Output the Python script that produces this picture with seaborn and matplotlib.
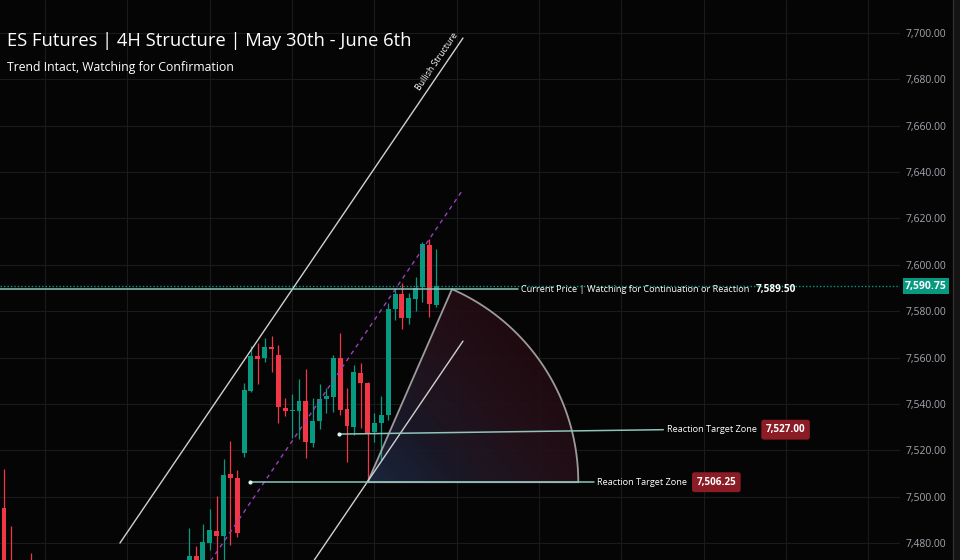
import numpy as np
import matplotlib
matplotlib.use("Agg")
import matplotlib.pyplot as plt
import seaborn as sns
from matplotlib.patches import Polygon, Rectangle
from matplotlib.lines import Line2D
from matplotlib.colors import LinearSegmentedColormap
from matplotlib.ticker import FuncFormatter

# 4H candles, index 0 = left edge of the screen
opens = [7495.1, 7466.0, 7455.0, 7446.0, 7462.0, 7444.0, 7430.0, 7438.0, 7446.0, 7440.0,
         7432.0, 7442.0, 7455.0, 7448.0, 7441.0, 7447.0, 7459.0, 7452.0, 7445.0, 7452.0,
         7460.0, 7454.0, 7458.0, 7464.0, 7457.0, 7463.0, 7459.0, 7466.0, 7474.4, 7468.0,
         7480.0, 7485.2, 7483.0, 7509.7, 7508.0, 7518.8, 7545.6, 7560.7, 7559.8, 7564.5,
         7561.1, 7538.2, 7536.9, 7537.0, 7541.2, 7523.1, 7532.6, 7542.1, 7543.0, 7559.8,
         7537.8, 7530.0, 7553.3, 7549.0, 7527.8, 7531.8, 7535.2, 7580.9, 7587.4, 7577.0,
         7585.3, 7590.4, 7608.5, 7582.7]
highs = [7511.9, 7487.3, 7468.0, 7460.0, 7475.7, 7452.0, 7441.0, 7449.0, 7455.0, 7447.0,
         7444.0, 7458.0, 7462.0, 7453.0, 7450.0, 7463.0, 7466.0, 7458.0, 7455.0, 7464.0,
         7468.0, 7461.0, 7469.0, 7470.0, 7466.0, 7469.0, 7467.0, 7486.5, 7478.7, 7488.2,
         7494.6, 7500.3, 7516.2, 7524.0, 7511.5, 7549.0, 7565.0, 7566.3, 7568.4, 7569.3,
         7565.4, 7542.5, 7544.3, 7550.7, 7555.0, 7542.5, 7548.6, 7546.9, 7561.1, 7570.6,
         7546.9, 7556.8, 7557.6, 7549.4, 7536.1, 7543.4, 7583.5, 7590.0, 7592.1, 7587.8,
         7594.7, 7609.8, 7611.1, 7606.8]
lows = [7455.0, 7450.0, 7440.0, 7436.0, 7441.0, 7425.0, 7421.0, 7433.0, 7436.0, 7428.0,
        7427.0, 7439.0, 7445.0, 7437.0, 7434.0, 7444.0, 7450.0, 7441.0, 7440.0, 7448.0,
        7451.0, 7446.0, 7452.0, 7455.0, 7452.0, 7456.0, 7455.0, 7460.0, 7463.0, 7465.0,
        7477.0, 7466.0, 7470.0, 7479.1, 7482.6, 7517.1, 7545.2, 7548.6, 7558.1, 7553.7,
        7531.8, 7534.8, 7525.3, 7524.8, 7516.7, 7521.4, 7529.2, 7536.3, 7536.7, 7535.4,
        7514.9, 7526.6, 7529.6, 7506.25, 7523.6, 7515.8, 7533.0, 7576.2, 7572.3, 7574.5,
        7580.1, 7583.9, 7577.5, 7581.8]
closes = [7462.0, 7455.0, 7446.0, 7452.0, 7444.0, 7430.0, 7438.0, 7446.0, 7440.0, 7432.0,
          7442.0, 7455.0, 7448.0, 7441.0, 7447.0, 7459.0, 7452.0, 7445.0, 7452.0, 7460.0,
          7454.0, 7458.0, 7464.0, 7457.0, 7463.0, 7459.0, 7466.0, 7474.4, 7468.0, 7480.4,
          7485.6, 7483.0, 7509.3, 7508.0, 7484.3, 7546.0, 7560.7, 7559.4, 7564.5, 7563.8,
          7538.7, 7536.9, 7537.4, 7541.2, 7523.6, 7532.6, 7542.1, 7543.6, 7559.8, 7537.4,
          7530.5, 7553.8, 7549.0, 7527.4, 7531.8, 7535.2, 7580.9, 7587.4, 7577.0, 7585.7,
          7590.0, 7609.0, 7583.1, 7590.75]

price_ticks = [7480, 7500, 7520, 7540, 7560, 7580, 7600, 7620, 7640, 7660, 7680, 7700]
current_price = 7590.75

# drawings
channel_x = [16.9, 66.9]
channel_upper = [7480.0, 7697.8]
channel_width = 130.7

watch_x = [-1.0, 74.9]
watch_y = [7589.50, 7589.50]
watch_text = "Current Price | Watching for Continuation or Reaction"
watch_value = "7,589.50"

target_x = [[48.8, 96.1], [35.9, 86.0]]
target_y = [[7527.00, 7528.9], [7506.25, 7506.25]]
target_text = "Reaction Target Zone"
target_values = ["7,527.00", "7,506.25"]

fan_apex = (53.0, 7506.25)
fan_top = (65.3, 7589.50)

title = "ES Futures | 4H Structure | May 30th - June 6th"
subtitle = "Trend Intact, Watching for Confirmation"

BG = "#050505"
GRID = "#1a1a1a"
UP = "#089981"
DOWN = "#f23645"
LINE = "#8fc4bb"

sns.set_theme(style="dark", rc={"axes.facecolor": BG, "figure.facecolor": BG,
                                "grid.color": GRID, "axes.grid": True})
plt.rcParams["font.family"] = ["Open Sans", "DejaVu Sans"]

fig = plt.figure(figsize=(9.6, 5.6), dpi=100)
ax = fig.add_axes([0, 0, 900 / 960, 1])
ax.set_facecolor(BG)
ax.set_xlim(-0.58, 130.6)
ax.set_ylim(7472.7, 7714.2)
for s in ax.spines.values():
    s.set_visible(False)

ax.set_xticks(np.arange(6, 131, 12))
ax.set_yticks(price_ticks)
ax.grid(True, color=GRID, lw=0.8)
ax.tick_params(axis="x", length=0, labelbottom=False)
ax.yaxis.tick_right()
ax.tick_params(axis="y", length=0, pad=4, labelsize=7.5, labelcolor="#a3a6ad")
ax.yaxis.set_major_formatter(FuncFormatter(lambda v, p: f"{v:,.2f}"))

# candles
idx = np.arange(len(opens))
o = np.array(opens); c = np.array(closes)
cols = [UP if cc >= oo else DOWN for oo, cc in zip(o, c)]
ax.vlines(idx, lows, highs, colors=cols, lw=0.9, zorder=3)
body = np.maximum(np.abs(c - o), 0.6)
ax.bar(idx, body, bottom=np.minimum(o, c), width=0.72, color=cols,
       edgecolor="none", linewidth=0, zorder=4)

# fan sector with gradient
T = ax.transData
apex_px = T.transform(fan_apex)
top_px = T.transform(fan_top)
r = np.hypot(*(top_px - apex_px))
th = np.arctan2(*(top_px - apex_px)[::-1])
ang = np.linspace(th, 0, 80)
arc_px = np.column_stack([apex_px[0] + r * np.cos(ang), apex_px[1] + r * np.sin(ang)])
poly_data = T.inverted().transform(np.vstack([apex_px, arc_px]))
x0, x1 = poly_data[:, 0].min(), poly_data[:, 0].max()
y0, y1 = poly_data[:, 1].min(), poly_data[:, 1].max()
gx, gy = np.meshgrid(np.linspace(x0, x1, 200), np.linspace(y0, y1, 200))
gp = T.transform(np.column_stack([gx.ravel(), gy.ravel()]))
tt = ((gp[:, 0] - apex_px[0]) * 0.75 + (gp[:, 1] - apex_px[1]) * 0.65) / r
tt = np.clip(tt, 0, 1).reshape(gx.shape)
cmap = LinearSegmentedColormap.from_list("fan", ["#1c2a44", "#1d1a2a", "#26121b", "#220b11"])
im = ax.imshow(tt, extent=(x0, x1, y0, y1), origin="lower", cmap=cmap, aspect="auto",
               alpha=0.9, zorder=1, interpolation="bilinear")
patch = Polygon(poly_data, closed=True, fc="none", ec="#b5b5b5", lw=1.3, alpha=0.85, zorder=5)
ax.add_patch(patch)
im.set_clip_path(patch)

# channel
ch_x = np.array(channel_x)
up_y = np.array(channel_upper)
sns.lineplot(x=ch_x, y=up_y, ax=ax, color="#d0d0d0", lw=1, zorder=6)
sns.lineplot(x=ch_x, y=up_y - channel_width, ax=ax, color="#d0d0d0", lw=1, zorder=6)
ax.plot(ch_x, up_y - channel_width / 2, color="#9b3fbf", lw=1, ls=(0, (3, 3)), zorder=6)
p0, p1 = T.transform((ch_x[0], up_y[0])), T.transform((ch_x[1], up_y[1]))
rot = np.degrees(np.arctan2(p1[1] - p0[1], p1[0] - p0[0]))
ax.annotate("Bullish Structure", xy=(ch_x[1], up_y[1]), xytext=(-2.5, 1.5),
            textcoords="offset points", rotation=rot, rotation_mode="anchor",
            ha="right", va="bottom", color="white", fontsize=6.3, zorder=7)

# current price line
ax.axhline(current_price, color=UP, lw=1, ls=(0, (1, 1.5)), zorder=2)

renderer = fig.canvas.get_renderer()


def label_line(xs, ys, text, value, box, dot):
    ax.plot(xs, ys, color=LINE, lw=1.1, zorder=6)
    if dot:
        ax.scatter([xs[0]], [ys[0]], s=9, color="#dff2ee", zorder=7, linewidths=0)
    t = ax.annotate(text, xy=(xs[1], ys[1]), xytext=(2.5, 0), textcoords="offset points",
                    ha="left", va="center", color="white", fontsize=6.6, zorder=8)
    bb = t.get_window_extent(renderer)
    yd = T.transform((xs[1], ys[1]))[1]
    if box:
        ax.annotate(value, xy=(bb.x1 + 9, yd), xycoords="figure pixels", ha="left", va="center",
                    color="white", fontsize=7.1, fontweight="bold", zorder=8,
                    bbox=dict(boxstyle="round,pad=0.45,rounding_size=0.25", fc="#8b1c25", ec="none"))
    else:
        ax.annotate(value, xy=(bb.x1 + 6, yd), xycoords="figure pixels", ha="left", va="center",
                    color="white", fontsize=7.2, fontweight="bold", zorder=8)


label_line(watch_x, watch_y, watch_text, watch_value, False, False)
for xs, ys, val in zip(target_x, target_y, target_values):
    label_line(xs, ys, target_text, val, True, True)

# last price tag on the scale
ax.text(1 + 5 / 900, current_price, f"{current_price:,.2f}", transform=ax.get_yaxis_transform(),
        ha="left", va="center", color="white", fontsize=7.5, fontweight="bold", clip_on=False,
        bbox=dict(boxstyle="square,pad=0.22", fc=UP, ec="none"), zorder=9)

# scale separator
fig.add_artist(Rectangle((953 / 960, 0), 7 / 960, 1, transform=fig.transFigure, fc="#141414", ec="none"))
fig.add_artist(Line2D([952.5 / 960] * 2, [0, 1], transform=fig.transFigure, color="#2e2e2e", lw=1))

fig.text(7 / 960, 1 - 41 / 560, title, color="white", fontsize=13.2, va="center", ha="left")
fig.text(7 / 960, 1 - 67 / 560, subtitle, color="white", fontsize=8.8, va="center", ha="left")

fig.savefig("out.png", dpi=100, facecolor=BG)
